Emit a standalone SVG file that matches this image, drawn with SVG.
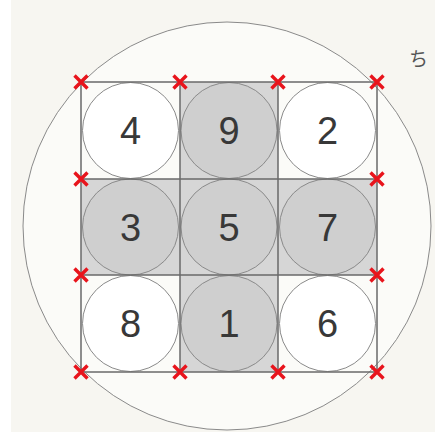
<svg xmlns="http://www.w3.org/2000/svg" width="435" height="432" viewBox="0 0 435 432">
<defs>
<style>
.grid{fill:none;stroke:#6a6a6a;stroke-width:1.5}
.c{stroke:#8a8a8a;stroke-width:1}
.w{fill:#ffffff}
.g{fill:#cfcfcf}
.n{font-family:"Liberation Sans",Arial,sans-serif;font-size:38px;fill:#383838;text-anchor:middle}
.x{stroke:#e8141c;stroke-width:3.4;stroke-linecap:butt}
</style>
<g id="xm"><path class="x" d="M-6.5,-6.5L6.5,6.5M6.5,-6.5L-6.5,6.5"/></g>
</defs>
<rect x="0" y="0" width="435" height="432" fill="#f7f6f1"/>
<rect x="0" y="0" width="11" height="432" fill="#ffffff"/>
<circle id="outer" cx="227" cy="226" r="204" fill="#fbfbf8" stroke="#8a8a8a" stroke-width="1"/>
<g id="shade" fill="#d6d6d6">
<rect x="180" y="82" width="98" height="290"/>
<rect x="81" y="179" width="296" height="96"/>
</g>
<g id="n4"><circle class="c w" cx="130.5" cy="130.5" r="48"/><text class="n" x="130.5" y="144">4</text></g>
<g id="n9"><circle class="c g" cx="229" cy="130.5" r="48"/><text class="n" x="229" y="144">9</text></g>
<g id="n2"><circle class="c w" cx="327.5" cy="130.5" r="48"/><text class="n" x="327.5" y="144">2</text></g>
<g id="n3"><circle class="c g" cx="130.5" cy="227" r="48"/><text class="n" x="130.5" y="240.5">3</text></g>
<g id="n5"><circle class="c g" cx="229" cy="227" r="48"/><text class="n" x="229" y="240.5">5</text></g>
<g id="n7"><circle class="c g" cx="327.5" cy="227" r="48"/><text class="n" x="327.5" y="240.5">7</text></g>
<g id="n8"><circle class="c w" cx="130.5" cy="323.5" r="48"/><text class="n" x="130.5" y="337">8</text></g>
<g id="n1"><circle class="c g" cx="229" cy="323.5" r="48"/><text class="n" x="229" y="337">1</text></g>
<g id="n6"><circle class="c w" cx="327.5" cy="323.5" r="48"/><text class="n" x="327.5" y="337">6</text></g>
<g id="connectors">
<rect class="grid" x="81" y="82" width="296" height="290"/>
<path class="grid" d="M180,82V372M278,82V372M81,179H377M81,275H377"/>
</g>
<g id="marks">
<use href="#xm" x="81" y="82"/><use href="#xm" x="180" y="82"/><use href="#xm" x="278" y="82"/><use href="#xm" x="377" y="82"/>
<use href="#xm" x="81" y="179"/><use href="#xm" x="377" y="179"/>
<use href="#xm" x="81" y="275"/><use href="#xm" x="377" y="275"/>
<use href="#xm" x="81" y="372"/><use href="#xm" x="180" y="372"/><use href="#xm" x="278" y="372"/><use href="#xm" x="377" y="372"/>
</g>
<text x="409" y="66" font-family="'Noto Sans CJK JP',sans-serif" font-size="19" fill="#555">ち</text>
</svg>
